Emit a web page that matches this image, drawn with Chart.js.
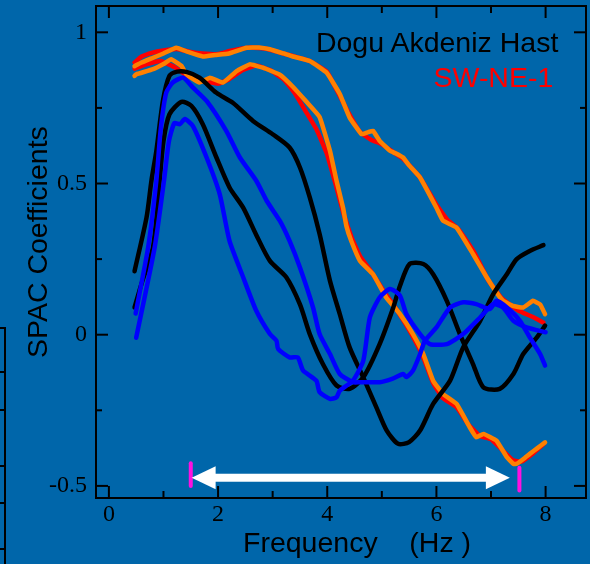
<!DOCTYPE html>
<html>
<head>
<meta charset="utf-8">
<script src="https://cdn.jsdelivr.net/npm/chart.js@4"></script>
<style>
html,body{margin:0;padding:0;background:#0066aa;}
#wrap{position:relative;width:590px;height:564px;overflow:hidden;background:#0066aa;}
#c{position:absolute;left:0;top:0;}
.t{position:absolute;font-family:"Liberation Sans",Arial,sans-serif;font-size:28.5px;line-height:28.5px;white-space:pre;color:#000;}
.edge{position:absolute;left:-12px;top:327px;width:14px;height:260px;border:2px solid #000;}
.etick{position:absolute;left:0;width:4px;height:2px;background:#000;}
</style>
</head>
<body>
<div id="wrap">
  <canvas id="c" width="590" height="564"></canvas>
  <div class="edge"></div>
  <div class="etick" style="top:371px"></div>
  <div class="etick" style="top:409px"></div>
  <div class="etick" style="top:465px"></div>
  <div class="etick" style="top:502px"></div>
  <div class="etick" style="top:548px"></div>
  <div class="t" style="left:22.9px;top:358px;transform:rotate(-90deg);transform-origin:0 0;">SPAC Coefficients</div>
  <div class="t" style="left:243px;top:527.6px;">Frequency    (Hz )</div>
  <div class="t" style="right:31.7px;top:27.6px;">Dogu Akdeniz Hast</div>
  <div class="t" style="right:36.7px;top:63.2px;color:#f00;">SW-NE-1</div>
</div>
<script>
// ---- axis ranges & ticks ----
const xMin = -0.236, xMax = 8.74;
const yMin = -0.54, yMax = 1.087;
const xTickValues = [0, 2, 4, 6, 8];
const xTickLabels = ['0', '2', '4', '6', '8'];
const xMinorTicks = [1, 3, 5, 7];
const yTickValues = [-0.5, 0, 0.5, 1];
const yTickLabels = ['-0.5', '0', '0.5', '1'];
const yMinorTicks = [-0.25, 0.25, 0.75];

// ---- range marker (magenta bars) and double arrow ----
const rangeBarX = [1.50, 7.52];
const rangeBarTop = [-0.425, -0.44];
const rangeBarBottom = [-0.50, -0.515];
const arrowX = [1.516, 7.345];
const arrowY = -0.473;

// ---- upper red / orange pair ----
const freqRedA = [0.47,0.6,0.8,1.0,1.25,1.5,1.72,2.0,2.21,2.4,2.6,2.9,3.13,3.4,3.68,3.99,4.2,4.4,4.6,4.8,5.0,5.2,5.4,5.7,6.0,6.2,6.4,6.7,6.95,7.2,7.5,7.75,7.96];
const spacRedA = [0.90,0.92,0.933,0.94,0.945,0.935,0.93,0.928,0.938,0.945,0.95,0.945,0.933,0.92,0.905,0.87,0.80,0.73,0.67,0.645,0.63,0.605,0.58,0.52,0.43,0.38,0.35,0.27,0.18,0.12,0.08,0.06,0.04];
const freqOrangeA = [0.47,0.6,0.8,1.0,1.235,1.45,1.72,1.95,2.2,2.52,2.75,2.95,3.2,3.37,3.68,3.99,4.23,4.41,4.63,4.75,4.84,4.96,5.15,5.25,5.39,5.5,5.7,6.0,6.12,6.37,6.67,6.92,7.1,7.22,7.4,7.59,7.77,7.9,7.99];
const spacOrangeA = [0.888,0.90,0.915,0.93,0.949,0.935,0.92,0.925,0.93,0.949,0.95,0.944,0.93,0.92,0.905,0.866,0.796,0.718,0.663,0.67,0.674,0.641,0.608,0.60,0.586,0.56,0.52,0.42,0.377,0.354,0.267,0.19,0.14,0.112,0.095,0.09,0.112,0.1,0.068];

// ---- lower red / orange pair ----
const freqRedB = [0.47,0.7,0.95,1.2,1.45,1.7,2.0,2.2,2.45,2.7,2.95,3.2,3.4,3.6,3.8,3.99,4.15,4.3,4.45,4.6,4.8,5.05,5.3,5.55,5.76,5.94,6.12,6.37,6.6,6.8,7.0,7.2,7.4,7.55,7.75,7.97];
const spacRedB = [0.88,0.895,0.905,0.885,0.855,0.84,0.83,0.845,0.875,0.89,0.875,0.845,0.80,0.74,0.68,0.60,0.50,0.40,0.32,0.26,0.21,0.14,0.075,0.0,-0.075,-0.16,-0.21,-0.24,-0.30,-0.335,-0.345,-0.38,-0.415,-0.42,-0.395,-0.36];
const freqOrangeB = [0.47,0.5,0.81,1.0,1.14,1.33,1.42,1.66,1.85,2.09,2.34,2.58,2.82,3.13,3.37,3.62,3.86,4.05,4.17,4.29,4.35,4.44,4.6,4.84,5.08,5.33,5.57,5.76,5.94,6.12,6.37,6.61,6.73,6.86,7.1,7.29,7.41,7.47,7.6,7.71,7.85,7.99];
const spacOrangeB = [0.856,0.861,0.878,0.895,0.911,0.889,0.861,0.834,0.85,0.834,0.872,0.894,0.883,0.86,0.82,0.77,0.72,0.608,0.509,0.42,0.36,0.31,0.244,0.2,0.123,0.069,0.002,-0.064,-0.152,-0.196,-0.229,-0.306,-0.339,-0.328,-0.35,-0.405,-0.427,-0.427,-0.41,-0.394,-0.375,-0.356];

// ---- black curves ----
const freqBlack1 = [0.47,0.69,0.78,0.87,0.99,1.11,1.25,1.42,1.66,1.97,2.27,2.64,3.0,3.31,3.5,3.68,3.86,4.05,4.23,4.41,4.66,4.9,5.09,5.3,5.5,5.7,5.94,6.25,6.49,6.8,7.04,7.29,7.47,7.71,7.96];
const spacBlack1 = [0.21,0.388,0.51,0.608,0.773,0.856,0.87,0.869,0.85,0.80,0.767,0.707,0.663,0.619,0.553,0.454,0.333,0.178,0.068,-0.042,-0.141,-0.24,-0.317,-0.361,-0.355,-0.317,-0.229,-0.152,-0.042,0.046,0.134,0.2,0.25,0.277,0.296];
const freqBlack2 = [0.47,0.6,0.81,0.93,1.0,1.11,1.33,1.51,1.72,1.97,2.21,2.46,2.7,2.95,3.25,3.5,3.68,3.92,4.17,4.41,4.66,4.96,5.21,5.33,5.51,5.76,5.94,6.19,6.43,6.67,6.86,7.16,7.41,7.59,7.84,7.99];
const spacBlack2 = [0.09,0.17,0.29,0.51,0.64,0.729,0.77,0.757,0.696,0.586,0.487,0.42,0.33,0.244,0.19,0.1,0.002,-0.097,-0.168,-0.179,-0.141,-0.031,0.09,0.16,0.234,0.234,0.2,0.112,0.002,-0.097,-0.174,-0.179,-0.13,-0.064,-0.009,0.03];

// ---- blue curves ----
const freqBlue1 = [0.49,0.72,0.87,0.95,1.05,1.17,1.36,1.54,1.79,2.15,2.4,2.7,2.89,3.13,3.31,3.5,3.74,3.86,4.05,4.23,4.47,4.6,4.96,5.2,5.39,5.45,5.57,5.7,5.79,6.0,6.25,6.49,6.73,6.98,7.1,7.29,7.53,7.71,7.9,7.99];
const spacBlue1 = [0.07,0.29,0.51,0.68,0.80,0.834,0.85,0.817,0.773,0.674,0.586,0.509,0.443,0.377,0.31,0.222,0.09,0.002,-0.064,-0.13,-0.157,-0.157,-0.157,-0.145,-0.13,-0.14,-0.119,-0.064,-0.02,0.024,0.09,0.107,0.101,0.085,0.112,0.09,0.046,-0.009,-0.064,-0.102];
const freqBlue2 = [0.5,0.84,1.01,1.1,1.2,1.3,1.39,1.54,1.79,2.03,2.21,2.46,2.7,2.95,3.07,3.1,3.31,3.46,3.56,3.8,3.86,4.05,4.17,4.23,4.47,4.66,4.78,4.96,5.15,5.33,5.45,5.7,5.88,6.19,6.49,6.8,7.04,7.22,7.41,7.65,8.0];
const spacBlue2 = [-0.01,0.29,0.51,0.64,0.70,0.696,0.713,0.69,0.586,0.465,0.31,0.19,0.079,0.002,-0.02,-0.047,-0.075,-0.075,-0.119,-0.152,-0.19,-0.212,-0.207,-0.185,-0.152,-0.086,0.057,0.123,0.151,0.13,0.068,0.002,-0.031,-0.031,0.002,0.057,0.101,0.09,0.046,0.024,0.008];

function pts(xs, ys) { return xs.map((x, i) => ({x: x, y: ys[i]})); }
function series(xs, ys, color, order, tension) {
  return {data: pts(xs, ys), borderColor: color, backgroundColor: color, borderWidth: 4.5,
          pointRadius: 0, fill: false, tension: tension, order: order,
          borderCapStyle: 'round', borderJoinStyle: 'round'};
}

const RED = '#ff0000', ORANGE = '#ff8000', BLUE = '#0000ff', BLACK = '#000000';
const MAGENTA = '#ff10e0';

const framePlugin = {
  id: 'frameMarks',
  afterDatasetsDraw(chart) {
    const {ctx, chartArea, scales} = chart;
    const {left, right, top, bottom} = chartArea;
    const x = scales.x, y = scales.y;
    ctx.save();
    ctx.strokeStyle = '#000';
    ctx.lineWidth = 2;
    ctx.lineCap = 'butt';
    const tick = (x1, y1, x2, y2) => { ctx.beginPath(); ctx.moveTo(x1, y1); ctx.lineTo(x2, y2); ctx.stroke(); };
    xTickValues.forEach(v => { const p = x.getPixelForValue(v); tick(p, bottom, p, bottom - 12); tick(p, top, p, top + 12); });
    xMinorTicks.forEach(v => { const p = x.getPixelForValue(v); tick(p, bottom, p, bottom - 7); tick(p, top, p, top + 7); });
    yTickValues.forEach(v => { const p = y.getPixelForValue(v); tick(left, p, left + 12, p); tick(right, p, right - 12, p); });
    yMinorTicks.forEach(v => { const p = y.getPixelForValue(v); tick(left, p, left + 6, p); tick(right, p, right - 6, p); });
    ctx.strokeRect(left, top, right - left, bottom - top);

    // magenta range bars
    ctx.strokeStyle = MAGENTA;
    ctx.lineWidth = 4;
    ctx.lineCap = 'round';
    rangeBarX.forEach((v, i) => {
      const p = x.getPixelForValue(v);
      tick(p, y.getPixelForValue(rangeBarTop[i]), p, y.getPixelForValue(rangeBarBottom[i]));
    });

    // white double arrow
    const ay = y.getPixelForValue(arrowY);
    const ax0 = x.getPixelForValue(arrowX[0]);
    const ax1 = x.getPixelForValue(arrowX[1]);
    const headL = 24, headH = 11.5;
    ctx.fillStyle = '#ffffff';
    ctx.fillRect(ax0 + headL - 1, ay - 4, (ax1 - headL + 1) - (ax0 + headL - 1), 8);
    ctx.beginPath();
    ctx.moveTo(ax0, ay); ctx.lineTo(ax0 + headL, ay - headH); ctx.lineTo(ax0 + headL, ay + headH); ctx.closePath(); ctx.fill();
    ctx.beginPath();
    ctx.moveTo(ax1, ay); ctx.lineTo(ax1 - headL, ay - headH); ctx.lineTo(ax1 - headL, ay + headH); ctx.closePath(); ctx.fill();
    ctx.restore();
  }
};

new Chart(document.getElementById('c'), {
  type: 'line',
  data: {
    datasets: [
      series(freqBlue1, spacBlue1, BLUE, 0, 0.2),
      series(freqBlue2, spacBlue2, BLUE, 1, 0.2),
      series(freqBlack1, spacBlack1, BLACK, 2, 0.25),
      series(freqBlack2, spacBlack2, BLACK, 3, 0.25),
      series(freqOrangeA, spacOrangeA, ORANGE, 4, 0.1),
      series(freqOrangeB, spacOrangeB, ORANGE, 5, 0.1),
      series(freqRedA, spacRedA, RED, 6, 0.1),
      series(freqRedB, spacRedB, RED, 7, 0.1)
    ]
  },
  options: {
    responsive: false,
    animation: false,
    devicePixelRatio: 1,
    layout: {padding: {left: 0, top: 6, right: 4, bottom: 0}},
    plugins: {legend: {display: false}, tooltip: {enabled: false}, title: {display: false}},
    scales: {
      x: {
        type: 'linear', position: 'bottom', min: xMin, max: xMax,
        grid: {display: false, drawTicks: false, tickLength: 0}, border: {display: false},
        afterBuildTicks: s => { s.ticks = xTickValues.map(v => ({value: v})); },
        ticks: {
          font: {family: '"Liberation Serif", "Times New Roman", serif', size: 24},
          color: '#000', padding: 2, autoSkip: false, maxRotation: 0, minRotation: 0,
          callback: v => xTickLabels[xTickValues.indexOf(v)]
        },
        afterFit: s => { s.height = 66; s.paddingLeft = 0; s.paddingRight = 0; }
      },
      y: {
        type: 'linear', position: 'left', min: yMin, max: yMax,
        grid: {display: false, drawTicks: false, tickLength: 0}, border: {display: false},
        afterBuildTicks: s => { s.ticks = yTickValues.map(v => ({value: v})); },
        ticks: {
          font: {family: '"Liberation Serif", "Times New Roman", serif', size: 24},
          color: '#000', padding: 9, autoSkip: false,
          callback: v => yTickLabels[yTickValues.indexOf(v)]
        },
        afterFit: s => { s.width = 96; s.paddingTop = 0; s.paddingBottom = 0; }
      }
    }
  },
  plugins: [framePlugin]
});
</script>
</body>
</html>
